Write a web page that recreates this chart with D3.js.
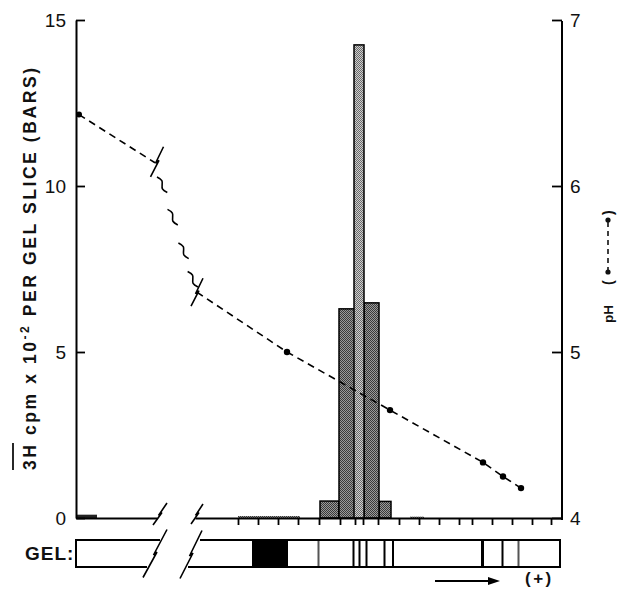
<!DOCTYPE html>
<html><head><meta charset="utf-8">
<script src="https://cdn.jsdelivr.net/npm/d3@7"></script>
<style>body{margin:0;background:#fff}svg{display:block}</style>
</head><body>
<svg id="c" width="618" height="589"></svg>
<script>
// ---------- data ----------
const countTicks = [0, 5, 10, 15];
const phTicks = [4, 5, 6, 7];
// gel slice boundaries (distance units, after the break)
const sliceEdges = [4, 6, 8, 10, 12.1, 14.2, 15.7, 16.5, 18, 20.1, 22.1, 24.1, 26.1, 27.4, 29.4, 31.4, 33.4, 35.3];
// bars before the break
const bar1Start = [0];
const bar1End = [2.1];
const bar1Count = [0.1];
// bars after the break
const bar2Start = [4.0, 12.2, 14.1, 15.6, 16.6, 18.1, 21.2];
const bar2End   = [10.2, 14.1, 15.7, 16.6, 18.1, 19.3, 22.6];
const bar2Count = [0.06, 0.51, 6.3, 14.25, 6.48, 0.5, 0.04];
// pH curve
const ph1Slice = [0.3, 7.9];
const ph1Value = [6.43, 6.14];
const ph1Measured = [true, false];
const ph2Slice = [-0.1, 8.9, 19.2, 28.5, 30.5, 32.3];
const ph2Value = [5.36, 5.0, 4.65, 4.335, 4.25, 4.18];
const ph2Measured = [false, true, true, true, true, true];
// gel bands (after the break)
const bandStart = [5.4, 11.95, 15.45, 16.05, 16.75, 18.55, 19.4, 28.3, 30.35, 31.95];
const bandEnd   = [9.0, 12.15, 15.65, 16.25, 16.95, 18.75, 19.6, 28.6, 30.55, 32.15];
const bandStrength = [1, 0.5, 1, 1, 1, 1, 1, 1, 1, 0.5];

// ---------- layout ----------
const svg = d3.select("#c");
const FONT = "'Liberation Sans', Arial, sans-serif";
const x1 = d3.scaleLinear().domain([0, 8.1]).range([76, 157]);
const x2 = d3.scaleLinear().domain([-0.3, 36.4]).range([195, 562]);
const yC = d3.scaleLinear().domain([0, 15]).range([518, 20]);
const yP = d3.scaleLinear().domain([4, 7]).range([518, 20]);
const base = yC(0);

// patterns
const defs = svg.append("defs");
function pat(id, bg, fg) {
  const p = defs.append("pattern").attr("id", id).attr("width", 2).attr("height", 2)
    .attr("patternUnits", "userSpaceOnUse");
  p.append("rect").attr("width", 2).attr("height", 2).attr("fill", bg);
  p.append("rect").attr("width", 1).attr("height", 1).attr("fill", fg);
  p.append("rect").attr("x", 1).attr("y", 1).attr("width", 1).attr("height", 1).attr("fill", fg);
}
pat("dark", "#9a9a9a", "#3a3a3a");
pat("light", "#cfcfcf", "#6a6a6a");

// ---------- bars ----------
const maxCount = d3.max(bar2Count);
const bars2 = bar2Start.map((s, i) => ({ s, e: bar2End[i], v: bar2Count[i] }))
  .sort((a, b) => a.v - b.v);
svg.append("g").selectAll("rect").data(bars2).join("rect")
  .attr("x", d => x2(d.s)).attr("width", d => x2(d.e) - x2(d.s))
  .attr("y", d => yC(d.v)).attr("height", d => base - yC(d.v))
  .attr("fill", d => d.v === maxCount ? "url(#light)" : "url(#dark)")
  .attr("stroke", "#000").attr("stroke-width", d => d.v > 0.2 ? 1.5 : 0);
const bars1 = bar1Start.map((s, i) => ({ s, e: bar1End[i], v: bar1Count[i] }));
svg.append("g").selectAll("rect").data(bars1).join("rect")
  .attr("x", d => x1(d.s)).attr("width", d => x1(d.e) - x1(d.s))
  .attr("y", d => yC(d.v)).attr("height", d => base - yC(d.v))
  .attr("fill", "#222");

// ---------- axes ----------
const axL = svg.append("g").attr("transform", "translate(76,0)")
  .call(d3.axisLeft(yC).tickValues(countTicks).tickSizeInner(-9).tickSizeOuter(0).tickPadding(10).tickFormat(d3.format("d")));
const axR = svg.append("g").attr("transform", "translate(562,0)")
  .call(d3.axisRight(yP).tickValues(phTicks).tickSizeInner(-10).tickSizeOuter(0).tickPadding(8).tickFormat(d3.format("d")));
const axB2 = svg.append("g").attr("transform", `translate(0,${base})`)
  .call(d3.axisBottom(x2).tickValues(sliceEdges).tickSizeInner(7).tickSizeOuter(0).tickFormat(""));
const axB1 = svg.append("g").attr("transform", `translate(0,${base})`)
  .call(d3.axisBottom(x1).tickValues([]).tickSizeOuter(0));
[axL, axR, axB1, axB2].forEach(a => {
  a.select(".domain").attr("stroke", "#000").attr("stroke-width", 2);
  a.selectAll(".tick line").attr("stroke", "#000").attr("stroke-width", 1.8);
  a.selectAll("text").attr("font-family", FONT).attr("font-size", 19).attr("fill", "#111");
});
axR.select(".domain").attr("d", `M0,${yP(7) + 1}V${yP(4) + 2}`);

// break marks
function bolt(g, cx, cy, hw, hh) {
  g.append("path")
    .attr("d", `M${cx + hw},${cy - hh}L${cx - 1.5},${cy + 1.5}L${cx + 2},${cy - 1.5}L${cx - hw},${cy + hh}`)
    .attr("fill", "none").attr("stroke", "#000").attr("stroke-width", 1.6);
}
const brk = svg.append("g");
bolt(brk, x1.range()[1] + 3, base - 4, 7, 11);
bolt(brk, x2.range()[0] + 2, base - 4, 6, 10);

// ---------- pH curve ----------
const line = d3.line();
const p1 = ph1Slice.map((s, i) => [x1(s), yP(ph1Value[i])]);
const p2 = ph2Slice.map((s, i) => [x2(s), yP(ph2Value[i])]);
const phG = svg.append("g");
[p1, p2].forEach(pts => phG.append("path").attr("d", line(pts))
  .attr("fill", "none").attr("stroke", "#000").attr("stroke-width", 1.6).attr("stroke-dasharray", "7,5"));
phG.selectAll("circle.a").data(p1.filter((d, i) => ph1Measured[i])).join("circle")
  .attr("cx", d => d[0]).attr("cy", d => d[1]).attr("r", 3).attr("fill", "#000");
phG.selectAll("circle.b").data(p2.filter((d, i) => ph2Measured[i])).join("circle")
  .attr("cx", d => d[0]).attr("cy", d => d[1]).attr("r", 3.2).attr("fill", "#000");
// breaks in the pH curve and the squiggled gap
const A = p1[p1.length - 1], B = p2[0];
bolt(phG, A[0] + 2, A[1] - 1, 6.5, 15);
bolt(phG, B[0], B[1], 6, 14);
const dx = B[0] - A[0], dy = B[1] - A[1], L = Math.hypot(dx, dy);
const u = [dx / L, dy / L], n = [-u[1], u[0]];
[0.17, 0.42, 0.68, 0.9].forEach(t => {
  const c = [A[0] + dx * t, A[1] + dy * t];
  const pts = [[-9, 2.5], [-4, -1], [4, 1], [9, -2.5]].map(([s, o]) => [c[0] + u[0] * s + n[0] * o, c[1] + u[1] * s + n[1] * o]);
  phG.append("path").attr("d", d3.line().curve(d3.curveCatmullRom)(pts))
    .attr("fill", "none").attr("stroke", "#000").attr("stroke-width", 1.6);
});

// ---------- axis titles ----------
const tL = svg.append("g").attr("transform", "translate(36,470) rotate(-90)");
const tt = tL.append("text").attr("font-family", FONT).attr("font-weight", "bold").attr("font-size", 17.5)
  .attr("fill", "#111").attr("textLength", 402).attr("lengthAdjust", "spacing");
tt.append("tspan").text("3H cpm x 10");
tt.append("tspan").attr("dy", -7).attr("font-size", 12).text("-2");
tt.append("tspan").attr("dy", 7).text(" PER GEL SLICE (BARS)");
tL.append("line").attr("x1", 0).attr("x2", 27).attr("y1", -23).attr("y2", -23).attr("stroke", "#111").attr("stroke-width", 1.8);

const tR = svg.append("g").attr("transform", "translate(613,323) rotate(-90)");
tR.append("text").attr("font-family", FONT).attr("font-weight", "bold").attr("font-size", 13.5).attr("fill", "#111").text("pH");
tR.append("text").attr("x", 38).attr("font-family", FONT).attr("font-weight", "bold").attr("font-size", 14).attr("fill", "#111").text("(");
tR.append("text").attr("x", 108).attr("font-family", FONT).attr("font-weight", "bold").attr("font-size", 14).attr("fill", "#111").text(")");
tR.append("line").attr("x1", 51).attr("x2", 103).attr("y1", -5).attr("y2", -5).attr("stroke", "#111").attr("stroke-width", 1.6).attr("stroke-dasharray", "5,4");
[51, 103].forEach(xx => tR.append("circle").attr("cx", xx).attr("cy", -5).attr("r", 2.6).attr("fill", "#111"));

// ---------- gel strip ----------
const gTop = 540, gBot = 567;
const gel = svg.append("g");
gel.selectAll("rect").data(bandStart.map((s, i) => ({ s, e: bandEnd[i], k: bandStrength[i] }))).join("rect")
  .attr("x", d => x2(d.s)).attr("width", d => x2(d.e) - x2(d.s))
  .attr("y", gTop).attr("height", gBot - gTop)
  .attr("fill", d => d.k < 1 ? "#555" : "#000");
const gs = { fill: "none", stroke: "#000", "stroke-width": 2 };
function apply(sel) { Object.entries(gs).forEach(([k, v]) => sel.attr(k, v)); return sel; }
apply(gel.append("path").attr("d", `M${x1(8.4)},${gTop}H76V${gBot}H${x1(7.1)}`));
apply(gel.append("path").attr("d", `M${x2(0.2)},${gTop}H${x2(36.2)}V${gBot}H${x2(-1.0)}`));
bolt(gel, x1.range()[1] - 2, (gTop + gBot) / 2, 12, 24);
bolt(gel, x2.range()[0] - 4, (gTop + gBot) / 2 + 1, 11, 24);
svg.append("text").attr("x", 25).attr("y", 560).attr("font-family", FONT).attr("font-weight", "bold")
  .attr("font-size", 19).attr("letter-spacing", 1).attr("fill", "#111").text("GEL:");
// direction arrow
svg.append("line").attr("x1", x2(23.7)).attr("x2", x2(29.5)).attr("y1", 581).attr("y2", 581).attr("stroke", "#000").attr("stroke-width", 2);
svg.append("path").attr("d", `M${x2(29.0)},577L${x2(30.2)},581L${x2(29.0)},585Z`).attr("fill", "#000");
svg.append("text").attr("x", 525).attr("y", 584).attr("font-family", FONT).attr("font-weight", "bold")
  .attr("font-size", 17).attr("letter-spacing", 2.5).attr("fill", "#111").text("(+)");
</script>
</body></html>
